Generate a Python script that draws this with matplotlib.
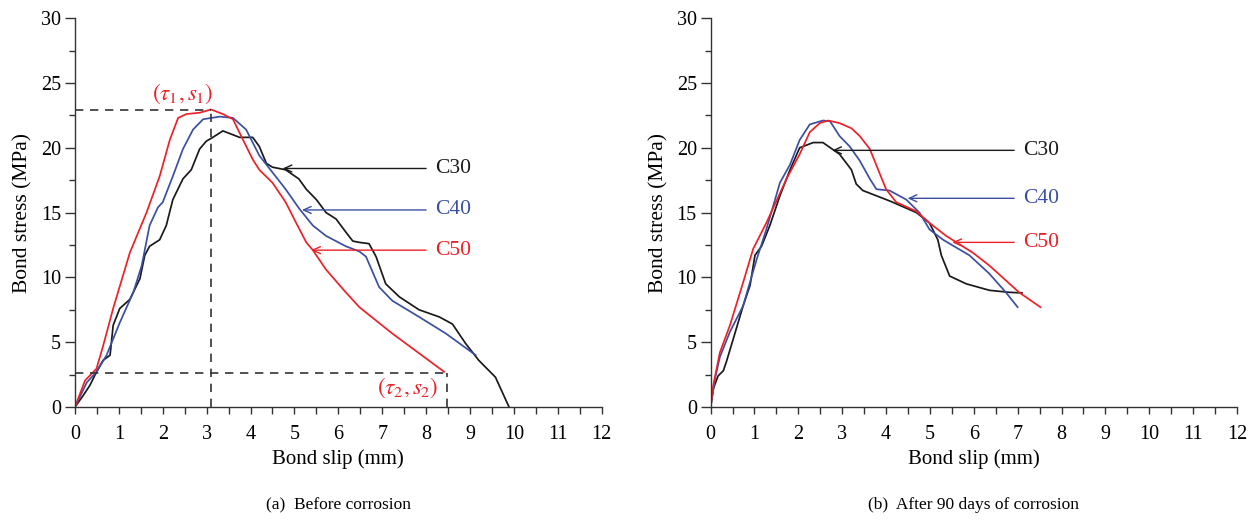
import numpy as np
import matplotlib
matplotlib.use('Agg')
import matplotlib.pyplot as plt
from matplotlib.ticker import MultipleLocator

plt.rcParams['font.family'] = ['Liberation Serif', 'DejaVu Serif']
plt.rcParams['mathtext.fontset'] = 'stix'

BLACK = '#1a1a1a'
BLUE = '#3a4fa3'
RED = '#ee2027'

# (a) before corrosion
a_c30_x = [0, 0.19, 0.34, 0.49, 0.64, 0.8, 0.87, 1.02, 1.25, 1.48, 1.59, 1.7, 1.93, 2.08, 2.23,
           2.46, 2.65, 2.84, 2.99, 3.14, 3.37, 3.6, 3.75, 4.05, 4.2, 4.36, 4.5, 4.8, 5.1, 5.27,
           5.5, 5.72, 5.95, 6.17, 6.33, 6.48, 6.7, 6.86, 7.08, 7.39, 7.84, 8.3, 8.6, 8.9, 9.2,
           9.58, 9.89]
a_c30_y = [0, 0.9, 1.67, 2.7, 3.6, 4.0, 6.3, 7.6, 8.3, 9.9, 11.7, 12.4, 12.9, 14.0, 16.0,
           17.6, 18.3, 19.9, 20.5, 20.8, 21.3, 21.0, 20.8, 20.8, 20.1, 18.8, 18.5, 18.3, 17.6, 16.8,
           16.0, 15.0, 14.5, 13.5, 12.8, 12.7, 12.6, 11.6, 9.5, 8.5, 7.5, 6.95, 6.4, 4.9, 3.6,
           2.3, 0.0]
a_c40_x = [0, 0.27, 0.49, 0.72, 1.02, 1.33, 1.52, 1.7, 1.89, 2.0, 2.23, 2.46, 2.69, 2.92, 3.3,
           3.6, 3.9, 4.2, 4.5, 4.8, 5.11, 5.42, 5.72, 6.17, 6.48, 6.63, 6.93, 7.23, 7.84, 8.45,
           9.13]
a_c40_y = [0, 1.9, 2.7, 4.0, 6.5, 8.85, 10.9, 14.0, 15.4, 15.8, 17.8, 19.9, 21.4, 22.2, 22.4,
           22.3, 21.4, 19.4, 18.1, 16.8, 15.3, 14.0, 13.2, 12.4, 12.0, 11.6, 9.25, 8.2, 6.95, 5.67,
           4.0]
a_c50_x = [0, 0.23, 0.49, 0.64, 0.87, 1.25, 1.63, 1.93, 2.16, 2.35, 2.54, 2.84, 3.1, 3.37, 3.6,
           3.83, 4.05, 4.2, 4.5, 4.8, 5.04, 5.27, 5.42, 5.72, 6.17, 6.48, 7.23, 8.41]
a_c50_y = [0, 2.05, 2.95, 4.7, 7.6, 11.9, 15.0, 17.8, 20.6, 22.3, 22.6, 22.7, 22.95, 22.6, 22.2,
           20.6, 19.1, 18.3, 17.3, 15.8, 14.2, 12.7, 12.1, 10.6, 8.85, 7.7, 5.67, 2.72]

# (b) after 90 days of corrosion
b_c30_x = [0, 0.06, 0.17, 0.29, 0.36, 0.52, 0.74, 0.9, 1.01, 1.16, 1.35, 1.58, 1.81, 2.03, 2.34,
           2.56, 2.94, 3.21, 3.32, 3.47, 4.08, 4.69, 4.99, 5.18, 5.26, 5.45, 5.83, 6.36, 6.8, 7.1]
b_c30_y = [0, 1.4, 2.4, 2.8, 3.5, 5.3, 7.8, 9.4, 11.7, 12.4, 14.0, 16.3, 18.3, 20.0, 20.4,
           20.4, 19.5, 18.3, 17.2, 16.7, 15.9, 15.0, 14.2, 12.9, 11.7, 10.1, 9.5, 9.0, 8.85, 8.8]
b_c40_x = [0, 0.1, 0.21, 0.44, 0.74, 1.05, 1.27, 1.58, 1.81, 2.03, 2.26, 2.56, 2.72, 2.94, 3.17,
           3.4, 3.63, 3.78, 4.08, 4.46, 4.76, 4.99, 5.3, 5.9, 6.35, 6.73, 7.0]
b_c40_y = [0, 2.2, 3.85, 5.8, 7.8, 11.4, 13.7, 17.3, 18.7, 20.6, 21.8, 22.1, 22.05, 20.9, 20.1,
           19.0, 17.6, 16.8, 16.7, 16.0, 15.0, 13.7, 12.9, 11.7, 10.3, 8.85, 7.7]
b_c50_x = [0, 0.06, 0.21, 0.44, 0.74, 0.97, 1.27, 1.73, 2.03, 2.26, 2.49, 2.68, 2.94, 3.21, 3.4,
           3.63, 3.82, 4.0, 4.23, 4.69, 4.99, 5.37, 5.98, 6.36, 7.03, 7.52]
b_c50_y = [0, 1.67, 4.2, 6.3, 9.6, 12.2, 14.2, 17.6, 19.5, 21.2, 21.9, 22.1, 21.9, 21.5, 20.9,
           19.9, 18.3, 16.8, 15.8, 15.1, 14.2, 13.2, 11.9, 10.9, 8.85, 7.7]

labels = ['C30', 'C40', 'C50']
colors = [BLACK, BLUE, RED]
# arrow tip (x, y) and start of leader line x
a_tips = [(4.73, 18.4), (5.17, 15.2), (5.38, 12.1)]
a_line_x = 8.0
b_tips = [(2.77, 19.8), (4.49, 16.1), (5.51, 12.7)]
b_line_x = 6.92

# characteristic points (before corrosion)
tau1, s1 = 22.9, 3.11
tau2, s2 = 2.65, 8.47

fig = plt.figure(figsize=(12.6, 5.22), dpi=100)
ax1 = fig.add_axes([0.0595, 0.2203, 0.418, 0.745])
ax2 = fig.add_axes([0.564, 0.2203, 0.4177, 0.745])


def style_axes(ax):
    ax.set_xlim(0, 12)
    ax.set_ylim(0, 30)
    ax.spines['top'].set_visible(False)
    ax.spines['right'].set_visible(False)
    for s in ['left', 'bottom']:
        ax.spines[s].set_color('#333333')
        ax.spines[s].set_linewidth(1.0)
    ax.xaxis.set_major_locator(MultipleLocator(1))
    ax.xaxis.set_minor_locator(MultipleLocator(0.5))
    ax.yaxis.set_major_locator(MultipleLocator(5))
    ax.yaxis.set_minor_locator(MultipleLocator(2.5))
    ax.tick_params(axis='x', which='both', direction='out', length=5, width=1,
                   color='#333333', labelsize=14.5, pad=8)
    ax.tick_params(axis='y', which='major', direction='out', length=7, width=1,
                   color='#333333', labelsize=14.5, pad=3)
    ax.tick_params(axis='y', which='minor', direction='out', length=4, width=1,
                   color='#333333')
    ax.set_xlabel('Bond slip (mm)', fontsize=15, labelpad=4)
    ax.set_ylabel('Bond stress (MPa)', fontsize=15.5, labelpad=6)


def annotate_curves(ax, tips, line_x):
    for (tx, ty), lab, c in zip(tips, labels, colors):
        ax.annotate('', xy=(tx, ty), xytext=(line_x, ty),
                    arrowprops=dict(arrowstyle='->,head_length=0.55,head_width=0.25',
                                    color=c, lw=1.0, shrinkA=0, shrinkB=0))
        ax.text(line_x + 0.2, ty, lab, color=c, fontsize=15.5, va='center', ha='left')


style_axes(ax1)
style_axes(ax2)

lw = 1.25
ax1.plot(a_c30_x, a_c30_y, color=BLACK, lw=lw)
ax1.plot(a_c40_x, a_c40_y, color=BLUE, lw=lw)
ax1.plot(a_c50_x, a_c50_y, color=RED, lw=lw)
ax2.plot(b_c30_x, b_c30_y, color=BLACK, lw=lw)
ax2.plot(b_c40_x, b_c40_y, color=BLUE, lw=lw)
ax2.plot(b_c50_x, b_c50_y, color=RED, lw=lw)

dash = dict(color='#333333', lw=1.2, ls=(0, (5, 4)))
ax1.plot([0, s1], [tau1, tau1], **dash)
ax1.plot([s1, s1], [0, tau1], **dash)
ax1.plot([0, s2], [tau2, tau2], **dash)
ax1.plot([s2, s2], [0, tau2], **dash)
ax1.text(2.45, 24.2, r'$(\tau_1, s_1)$', color=RED, fontsize=16.5, ha='center', va='center')
ax1.text(7.57, 1.5, r'$(\tau_2, s_2)$', color=RED, fontsize=16.5, ha='center', va='center')

annotate_curves(ax1, a_tips, a_line_x)
annotate_curves(ax2, b_tips, b_line_x)

fig.text(0.269, 0.032, '(a)  Before corrosion', fontsize=12.5, ha='center', va='center')
fig.text(0.773, 0.032, '(b)  After 90 days of corrosion', fontsize=12.5, ha='center', va='center')

fig.savefig('out.png', dpi=100)
